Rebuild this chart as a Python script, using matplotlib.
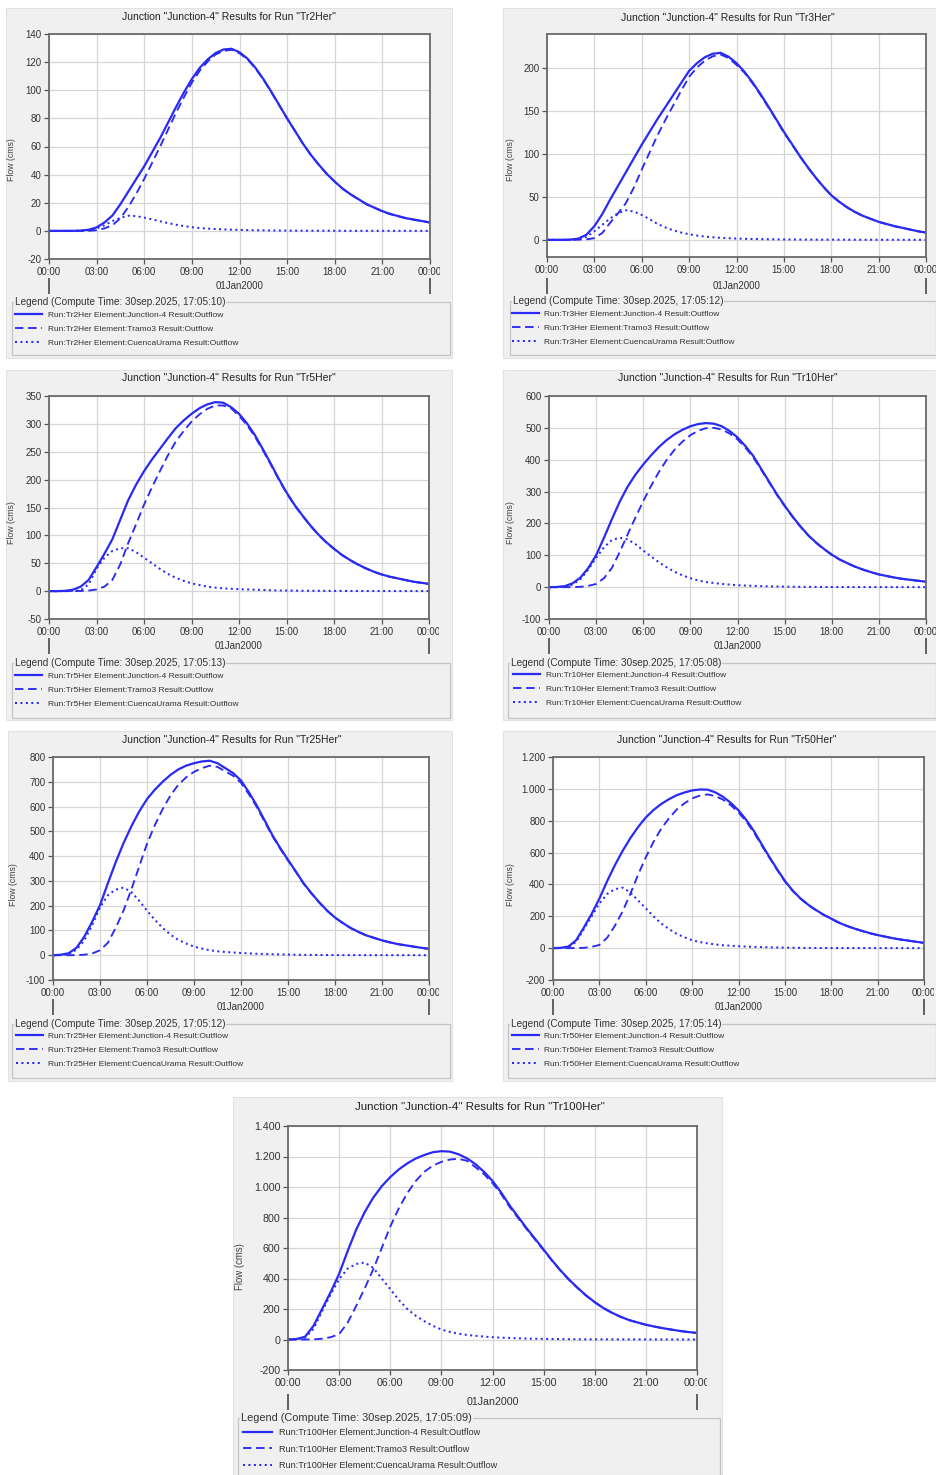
import matplotlib
matplotlib.use('Agg')
import matplotlib.pyplot as plt
from matplotlib.patches import Rectangle
from matplotlib.transforms import Bbox

plt.rcParams['font.family'] = ['Liberation Sans', 'DejaVu Sans']

W, H = 936, 1475

# ---------------- data ----------------
hours = [h / 2 for h in range(49)]   # 00:00 .. 24:00 every 30 min
xtick_hours = [0, 3, 6, 9, 12, 15, 18, 21, 24]
xtick_labels = ['00:00', '03:00', '06:00', '09:00', '12:00', '15:00', '18:00', '21:00', '00:00']
date_label = '01Jan2000'

runs = ['Tr2Her', 'Tr3Her', 'Tr5Her', 'Tr10Her', 'Tr25Her', 'Tr50Her', 'Tr100Her']
compute_times = ['30sep.2025, 17:05:10', '30sep.2025, 17:05:12', '30sep.2025, 17:05:13',
                 '30sep.2025, 17:05:08', '30sep.2025, 17:05:12', '30sep.2025, 17:05:14',
                 '30sep.2025, 17:05:09']

junction_tr2 = [0, 0, 0, 0, 0.2, 0.8, 2.5, 6, 11, 19, 28, 37, 46, 56, 66, 77, 88, 98.5, 108, 116, 122, 126.5,
                129, 129.5, 127, 122.5, 116, 108, 99, 89.5, 80, 71, 62, 54, 47, 40.5, 35, 30, 26, 22.5, 19, 16.5,
                14, 12, 10.5, 9, 8, 7, 6]
tramo_tr2 = [0, 0, 0, 0, 0, 0, 0.5, 1.8, 4, 9, 17, 26.5, 37, 48.5, 60, 72, 84, 95, 105.5, 114, 120.5, 125.5,
             128, 128.8, 126.3, 122, 115.6, 107.7, 98.7, 89.3, 79.8, 70.9, 61.8, 53.9, 46.9, 40.4, 34.9, 29.9,
             25.9, 22.4, 18.9, 16.4, 13.9, 11.9, 10.4, 8.9, 7.9, 6.9, 5.9]
cuenca_tr2 = [0, 0, 0, 0, 0.1, 0.6, 1.8, 4, 7, 9.3, 10.8, 10.5, 9.4, 8.2, 6.8, 5.5, 4.4, 3.4, 2.6, 2.0, 1.6, 1.3,
              1.0, 0.85, 0.7, 0.55, 0.45, 0.37, 0.3, 0.25, 0.2, 0.17, 0.15, 0.12, 0.1, 0.09, 0.08, 0.07, 0.06,
              0.05, 0.05, 0.04, 0.04, 0.03, 0.03, 0.03, 0.02, 0.02, 0.02]

junction_tr3 = [0, 0, 0, 0.3, 1.5, 6, 16, 30, 47, 63, 79, 95, 111, 126, 141, 155, 169, 183, 197, 206, 213, 217,
                218, 213.5, 206, 196, 184, 170.5, 156, 141, 126, 112, 98, 85, 73, 62, 52, 44.5, 38, 32.5, 28, 24.5,
                21, 18.5, 16, 14, 12, 10, 8.5]
tramo_tr3 = [0, 0, 0, 0, 0.2, 0.6, 2, 8, 20, 31, 43, 61, 82, 102, 122, 140, 157, 174, 190, 201, 209, 214, 216,
             212, 204, 195, 183, 169.5, 155, 140.4, 125, 111.5, 97.6, 84.8, 72.7, 61.8, 51.8, 44.3, 37.8, 32.4,
             27.9, 24.4, 20.9, 18.4, 15.9, 13.9, 11.9, 9.9, 8.4]
cuenca_tr3 = [0, 0, 0, 0.1, 0.5, 3.5, 10, 17.5, 25, 31, 34.5, 33, 29, 24, 18.5, 14.5, 11, 8.5, 6.5, 5, 3.8, 3,
              2.3, 1.9, 1.5, 1.2, 1.0, 0.85, 0.7, 0.6, 0.5, 0.42, 0.35, 0.3, 0.25, 0.22, 0.2, 0.17, 0.15, 0.12,
              0.1, 0.1, 0.1, 0.09, 0.08, 0.07, 0.06, 0.05, 0.05]

junction_tr5 = [0, 0, 0.5, 2.5, 8, 20, 43, 67, 93, 128, 163, 191, 215, 236, 255, 274, 292, 306, 318, 328, 335,
                339, 338, 330, 318, 301, 280, 255, 229, 202, 177, 155, 136, 118, 102, 88, 76, 65, 56, 48, 41, 35,
                30, 26, 23, 20, 17, 15, 13]
tramo_tr5 = [0, 0, 0, 0, 0.3, 1, 3, 8, 20, 48, 86, 120, 155, 186, 215, 243, 268, 287, 304, 317, 327, 333, 333,
             328, 314.5, 298, 277.5, 253, 227.5, 200.8, 176, 154.2, 135.3, 117.4, 101.5, 87.5, 75.6, 64.6, 55.7,
             47.7, 40.8, 34.8, 29.85, 25.9, 22.9, 19.9, 16.9, 14.9, 12.9]
cuenca_tr5 = [0, 0, 0, 0.3, 1.5, 12, 40, 60, 72, 77, 77, 70, 60, 50, 40, 31, 24, 18.5, 14, 11, 8, 6.3, 5, 4.2,
              3.5, 3, 2.5, 2, 1.5, 1.2, 1, 0.85, 0.7, 0.6, 0.5, 0.45, 0.4, 0.35, 0.3, 0.25, 0.2, 0.18, 0.15,
              0.12, 0.1, 0.1, 0.1, 0.1, 0.1]

junction_tr10 = [0, 0.5, 3, 12, 30, 60, 100, 155, 213, 268, 315, 353, 385, 414, 440, 462, 480, 494, 505, 512,
                 515, 513, 505, 490, 470, 443, 412, 372, 332, 292, 256, 222, 191, 163, 140, 120, 102, 87, 75, 64,
                 55, 47, 40, 35, 30, 26, 23, 20, 17]
tramo_tr10 = [0, 0, 0, 0, 1, 4, 10, 28, 60, 110, 165, 218, 270, 318, 362, 400, 432, 457, 477, 491, 499, 500,
              495, 482, 464, 438, 408, 369, 329.5, 290, 254.5, 220.8, 190, 162.2, 139.3, 119.4, 101.5, 86.6,
              74.6, 63.7, 54.7, 46.8, 39.8, 34.8, 29.85, 25.9, 22.9, 19.9, 16.9]
cuenca_tr10 = [0, 0.3, 2, 8, 25, 55, 92, 125, 148, 155, 150, 135, 115, 96, 78, 62, 48, 37, 28, 21, 16, 13, 10,
               8, 6, 5, 4, 3.2, 2.5, 2, 1.5, 1.2, 1, 0.85, 0.7, 0.6, 0.5, 0.45, 0.4, 0.35, 0.3, 0.25, 0.2, 0.18,
               0.15, 0.12, 0.1, 0.1, 0.1]

junction_tr25 = [0, 2, 8, 30, 75, 135, 202, 290, 375, 452, 520, 580, 630, 668, 700, 728, 750, 765, 775, 782,
                 785, 775, 755, 735, 705, 658, 605, 545, 485, 433, 385, 338, 290, 250, 213, 180, 152, 130, 110,
                 94, 80, 70, 60, 52, 45, 40, 35, 30, 26]
tramo_tr25 = [0, 0, 0, 0.5, 2, 7, 20, 50, 110, 180, 265, 358, 450, 525, 590, 645, 688, 718, 740, 755, 765, 760,
              742, 724, 696, 650, 599, 540, 481, 430, 382.5, 336, 288.5, 248.8, 212, 179.2, 151.5, 129.5, 109.5,
              93.5, 79.6, 69.6, 59.7, 51.7, 44.8, 39.8, 34.8, 29.8, 25.9]
cuenca_tr25 = [0, 1, 5, 22, 60, 122, 193, 242, 265, 273, 255, 220, 180, 143, 110, 83, 62, 47, 35, 27, 20, 16,
               13, 11, 9, 7.5, 6, 5, 4, 3.2, 2.5, 2, 1.5, 1.2, 1, 0.8, 0.5, 0.5, 0.5, 0.45, 0.4, 0.35, 0.3,
               0.25, 0.2, 0.2, 0.2, 0.15, 0.1]

junction_tr50 = [0, 2, 10, 50, 130, 215, 311, 420, 520, 610, 690, 760, 820, 867, 905, 935, 960, 977, 990, 996,
                 995, 978, 950, 912, 865, 805, 735, 652, 572, 495, 422, 362, 313, 273, 240, 210, 185, 160, 140,
                 123, 108, 94, 82, 72, 62, 54, 47, 40, 33]
tramo_tr50 = [0, 0, 0, 0.5, 2, 8, 20, 65, 140, 230, 340, 460, 570, 667, 750, 815, 870, 909, 940, 958, 965, 955,
              932, 897, 853, 795, 727, 645, 567, 491, 419, 359.5, 311, 271.5, 239, 209.3, 184, 159.4, 139.4,
              122.5, 107.5, 93.6, 81.6, 71.7, 61.7, 53.8, 46.8, 39.8, 32.8]
cuenca_tr50 = [0, 1, 5, 40, 120, 200, 280, 340, 370, 380, 350, 300, 250, 200, 155, 120, 90, 68, 50, 38, 30, 23,
               18, 15, 12, 10, 8, 6.5, 5, 4, 3, 2.5, 2, 1.5, 1, 0.9, 0.8, 0.7, 0.6, 0.55, 0.5, 0.45, 0.4, 0.35,
               0.3, 0.25, 0.2, 0.2, 0.2]

junction_tr100 = [0, 3, 18, 90, 200, 310, 430, 580, 720, 835, 930, 1005, 1065, 1115, 1155, 1187, 1210, 1228,
                  1235, 1232, 1215, 1188, 1150, 1100, 1040, 965, 880, 805, 730, 660, 590, 518, 452, 392, 338, 288,
                  245, 207, 176, 150, 128, 112, 97, 85, 74, 65, 56, 49, 43]
tramo_tr100 = [0, 0, 0, 1, 5, 15, 35, 110, 220, 335, 460, 600, 740, 860, 960, 1040, 1100, 1140, 1165, 1180,
               1185, 1172, 1130, 1085, 1025, 955, 870, 797, 724, 655, 586, 515, 449.5, 390, 336.5, 286.8, 244,
               206.1, 175.2, 149.3, 127.4, 111.5, 96.5, 84.6, 73.6, 64.7, 55.7, 48.8, 42.8]
cuenca_tr100 = [0, 2, 12, 70, 185, 295, 395, 465, 495, 505, 470, 400, 330, 260, 200, 155, 120, 90, 65, 50, 38,
                30, 24, 19, 15, 12, 10, 8, 6, 5, 4, 3.2, 2.5, 2, 1.5, 1.2, 1, 0.9, 0.8, 0.7, 0.6, 0.55, 0.5, 0.45,
                0.4, 0.35, 0.3, 0.25, 0.2]

junction_series = [junction_tr2, junction_tr3, junction_tr5, junction_tr10, junction_tr25, junction_tr50, junction_tr100]
tramo_series = [tramo_tr2, tramo_tr3, tramo_tr5, tramo_tr10, tramo_tr25, tramo_tr50, tramo_tr100]
cuenca_series = [cuenca_tr2, cuenca_tr3, cuenca_tr5, cuenca_tr10, cuenca_tr25, cuenca_tr50, cuenca_tr100]

y_limits = [(-20, 140), (-20, 240), (-50, 350), (-100, 600), (-100, 800), (-200, 1200), (-200, 1400)]
y_ticks = [list(range(-20, 141, 20)), list(range(0, 201, 50)), list(range(-50, 351, 50)),
           list(range(-100, 601, 100)), list(range(-100, 801, 100)), list(range(-200, 1201, 200)),
           list(range(-200, 1401, 200))]

# ---------------- layout (pixels) ----------------
panels = [
    dict(plot=(49, 34, 430, 259), box=(6, 8, 452, 358), group=(12, 302, 450, 355), title=(229, 17),
         ylab=(12, 160), leg=(15, 311), mark=27, s=1.0),
    dict(plot=(547, 34, 926, 257), box=(503, 8, 936, 358), group=(510, 301, 936, 355), title=(728, 18),
         ylab=(511, 160), leg=(512, 310), mark=29, s=1.0),
    dict(plot=(49, 396, 429, 619), box=(6, 370, 452, 720), group=(12, 663, 450, 718), title=(229, 378),
         ylab=(12, 523), leg=(15, 672), mark=27, s=1.0),
    dict(plot=(549, 396, 926, 619), box=(503, 370, 936, 720), group=(508, 663, 936, 718), title=(728, 378),
         ylab=(511, 523), leg=(513, 671), mark=27, s=1.0),
    dict(plot=(53, 757, 429, 980), box=(8, 731, 452, 1081), group=(12, 1024, 450, 1078), title=(232, 740),
         ylab=(13, 885), leg=(16, 1032), mark=27, s=1.0),
    dict(plot=(553, 757, 924, 980), box=(503, 731, 936, 1081), group=(508, 1024, 936, 1078), title=(727, 740),
         ylab=(511, 885), leg=(512, 1032), mark=27, s=1.0),
    dict(plot=(288, 1126, 697, 1370), box=(233, 1097, 722, 1475), group=(238, 1418, 720, 1478), title=(480, 1107),
         ylab=(240, 1267), leg=(243, 1428), mark=32, s=1.1),
]

LINE = '#2a2af5'
BOXBG = '#f0f0f0'


def frect(x0, y0, x1, y1):
    return [x0 / W, 1 - y1 / H, (x1 - x0) / W, (y1 - y0) / H]


def fmt(v):
    return f"{v:,.0f}".replace(",", ".")


fig = plt.figure(figsize=(W / 100, H / 100), dpi=100)
fig.patch.set_facecolor('white')

for i, p in enumerate(panels):
    s = p['s']
    bx0, by0, bx1, by1 = p['box']
    fig.patches.append(Rectangle((bx0 / W, 1 - by1 / H), (bx1 - bx0) / W, (by1 - by0) / H,
                                 transform=fig.transFigure, facecolor=BOXBG, edgecolor='#e2e2e2',
                                 lw=0.8, zorder=-2))
    px0, py0, px1, py1 = p['plot']
    ax = fig.add_axes(frect(px0, py0, px1, py1))
    ax.set_zorder(1)
    ax.set_facecolor('white')
    ax.set_xlim(0, 24)
    ax.set_ylim(*y_limits[i])
    ax.set_xticks(xtick_hours)
    ax.set_xticklabels(xtick_labels)
    ax.set_yticks(y_ticks[i])
    ax.set_yticklabels([fmt(v) for v in y_ticks[i]])
    ax.grid(True, color='#d6d6d6', lw=0.9)
    ax.set_axisbelow(True)
    for sp in ax.spines.values():
        sp.set_color('#6a6a6a')
        sp.set_linewidth(1.3)
    ax.tick_params(labelsize=7 * s, labelcolor='#333333', color='#555555', length=3.5, width=0.9, pad=2)

    # the last time label is cut by the panel edge in the original
    clip_right = min(px1 + 10, W)
    last = ax.get_xticklabels()[-1]
    last.set_clip_on(True)
    last.set_clip_box(Bbox.from_extents(0, 0, clip_right, H))

    l1, = ax.plot(hours, junction_series[i], color=LINE, lw=1.6, solid_joinstyle='round')
    l2, = ax.plot(hours, tramo_series[i], color=LINE, lw=1.35, linestyle=(0, (4.5, 2.5)))
    l3, = ax.plot(hours, cuenca_series[i], color=LINE, lw=1.45, linestyle=(0, (1, 1.7)))

    ph = py1 - py0
    off = p['mark']
    sec = ax.secondary_xaxis(-off / ph)
    sec.set_xticks([0, 24])
    sec.set_xticklabels(['', ''])
    sec.tick_params(axis='x', direction='inout', length=12, width=1.3, color='#555555')
    for sp in sec.spines.values():
        sp.set_visible(False)
    ax.text(0.5, -off / ph, date_label, transform=ax.transAxes, ha='center', va='center',
            fontsize=7 * s, color='#333333')

    # title and y label
    fig.text(p['title'][0] / W, 1 - p['title'][1] / H,
             f'Junction "Junction-4" Results for Run "{runs[i]}"',
             ha='center', va='center', fontsize=7.5 * s, color='#222222')
    fig.text(p['ylab'][0] / W, 1 - p['ylab'][1] / H, 'Flow (cms)', rotation=90,
             ha='center', va='center', fontsize=6.3 * s, color='#444444')

    # legend group box
    gx0, gy0, gx1, gy1 = p['group']
    fig.patches.append(Rectangle((gx0 / W, 1 - gy1 / H), (gx1 - gx0) / W, (gy1 - gy0) / H,
                                 transform=fig.transFigure, facecolor='none', edgecolor='#c4c4c4',
                                 lw=0.9, zorder=-1))
    fig.text((gx0 + 3) / W, 1 - gy0 / H, f'Legend (Compute Time: {compute_times[i]})',
             ha='left', va='center', fontsize=7.2 * s, color='#333333', zorder=3,
             bbox=dict(facecolor=BOXBG, edgecolor='none', pad=0.6))
    labels = [f'Run:{runs[i]} Element:Junction-4 Result:Outflow',
              f'Run:{runs[i]} Element:Tramo3 Result:Outflow',
              f'Run:{runs[i]} Element:CuencaUrama Result:Outflow']
    leg = ax.legend([l1, l2, l3], labels, loc='upper left',
                    bbox_to_anchor=(p['leg'][0] / W, 1 - p['leg'][1] / H),
                    bbox_transform=fig.transFigure, frameon=False, fontsize=6 * s,
                    handlelength=3.2, handletextpad=0.7, labelspacing=0.75 * s,
                    borderaxespad=0, borderpad=0)
    for t in leg.get_texts():
        t.set_color('#333333')

fig.savefig('out.png', dpi=100, facecolor='white')
